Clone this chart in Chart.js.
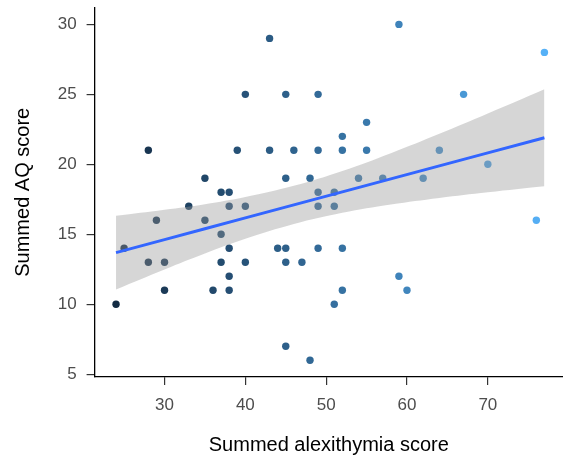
<!DOCTYPE html>
<html>
<head>
<meta charset="utf-8">
<script src="https://cdn.jsdelivr.net/npm/chart.js@4.4.1/dist/chart.umd.min.js"></script>
<style>
  body { margin: 0; background: #fff; }
  #wrap { width: 563px; height: 462px; position: relative; }
</style>
</head>
<body>
<div id="wrap"><canvas id="chart"></canvas></div>
<script>
// skor alexithymia vs AQ
const alexScore = [24, 25, 28, 28, 29, 30, 30, 33, 35, 35, 36, 37, 37, 37, 38, 38, 38, 38, 38, 39,
  40, 40, 40, 43, 43, 44, 45, 45, 45, 45, 45, 46, 47, 48, 48, 49, 49, 49, 49, 49,
  51, 51, 51, 52, 52, 52, 52, 54, 55, 55, 57, 59, 59, 60, 62, 64, 67, 70, 76, 77];
const aqScore = [10, 14, 21, 13, 16, 13, 11, 17, 19, 16, 11, 18, 15, 13, 18, 17, 14, 12, 11, 21,
  25, 17, 13, 29, 21, 14, 25, 19, 14, 13, 7, 21, 13, 19, 6, 25, 21, 18, 17, 14,
  18, 17, 10, 22, 21, 14, 11, 19, 23, 21, 19, 30, 12, 11, 19, 21, 25, 20, 16, 28];

// garis regresi + pita kepercayaan
const fitX = [24, 30, 35, 40, 46, 52, 58, 64, 70, 77];
const fitY = [13.69, 14.62, 15.39, 16.17, 17.10, 18.03, 18.96, 19.89, 20.82, 21.90];
const bandLow = [11.06, 12.49, 13.63, 14.68, 15.74, 16.54, 17.13, 17.60, 18.01, 18.44];
const bandHigh = [16.32, 16.75, 17.15, 17.66, 18.46, 19.52, 20.79, 22.18, 23.63, 25.36];

const xTicks = [30, 40, 50, 60, 70];
const yTicks = [5, 10, 15, 20, 25, 30];

// WARNA TITIK: gradasi dari gelap ke biru muda sesuai skor x
const colLow = [0x13, 0x2B, 0x43];
const colHigh = [0x56, 0xB1, 0xF7];
const xMin = Math.min(...alexScore);
const xMax = Math.max(...alexScore);
function pointColor(v) {
    const t = (v - xMin) / (xMax - xMin);
    const c = colLow.map((a, i) => Math.round(a + (colHigh[i] - a) * t));
    return `rgb(${c[0]}, ${c[1]}, ${c[2]})`;
}

const toXY = (xs, ys) => xs.map((x, i) => ({ x: x, y: ys[i] }));

const font = "'Liberation Sans', Arial, Helvetica, sans-serif";

// buang padding otomatis dari label tick
function noPad(s) {
    s.paddingTop = 0;
    s.paddingBottom = 0;
    s.paddingLeft = 0;
    s.paddingRight = 0;
}

new Chart(document.getElementById("chart"), {
    type: "scatter",
    data: {
        datasets: [
            {
                label: "points",
                data: toXY(alexScore, aqScore),
                backgroundColor: alexScore.map(pointColor),
                borderWidth: 0,
                pointRadius: 3.7,
                order: 3
            },
            {
                label: "low",
                type: "line",
                data: toXY(fitX, bandLow),
                showLine: true,
                borderWidth: 0,
                pointRadius: 0,
                fill: false,
                tension: 0.4,
                order: 2
            },
            {
                label: "high",
                type: "line",
                data: toXY(fitX, bandHigh),
                showLine: true,
                borderWidth: 0,
                pointRadius: 0,
                backgroundColor: "rgba(153, 153, 153, 0.4)",
                fill: "-1",
                tension: 0.4,
                order: 2
            },
            {
                label: "fit",
                type: "line",
                data: toXY(fitX, fitY),
                showLine: true,
                borderColor: "#3366FF",
                borderWidth: 3,
                pointRadius: 0,
                fill: false,
                order: 1
            }
        ]
    },
    options: {
        responsive: true,
        maintainAspectRatio: false,
        animation: false,
        layout: { autoPadding: false, padding: { top: 7.6, right: 0, left: 0, bottom: 0 } },
        plugins: {
            legend: { display: false },
            tooltip: { enabled: false }
        },
        scales: {
            x: {
                type: "linear",
                min: 21.35,
                max: 79.3,
                afterBuildTicks: s => { s.ticks = xTicks.map(v => ({ value: v })); },
                afterFit: s => { s.height = 85; noPad(s); },
                ticks: {
                    font: { family: font, size: 17 },
                    color: "#4D4D4D",
                    padding: 10
                },
                grid: {
                    drawOnChartArea: false,
                    tickLength: 8,
                    color: "#333333",
                    lineWidth: 1.2
                },
                border: { display: true, color: "#000", width: 1.3 },
                title: {
                    display: true,
                    text: "Summed alexithymia score",
                    color: "#000",
                    font: { family: font, size: 20 },
                    padding: { top: 0, bottom: 5 }
                }
            },
            y: {
                type: "linear",
                min: 4.8,
                max: 31.2,
                afterBuildTicks: s => { s.ticks = yTicks.map(v => ({ value: v })); },
                afterFit: s => { s.width = 94.6; noPad(s); },
                ticks: {
                    font: { family: font, size: 17 },
                    color: "#4D4D4D",
                    padding: 10
                },
                grid: {
                    drawOnChartArea: false,
                    tickLength: 8,
                    color: "#333333",
                    lineWidth: 1.2
                },
                border: { display: true, color: "#000", width: 1.3 },
                title: {
                    display: true,
                    text: "Summed AQ score",
                    color: "#000",
                    font: { family: font, size: 20 },
                    padding: { top: 11, bottom: 0 }
                }
            }
        }
    }
});
</script>
</body>
</html>
